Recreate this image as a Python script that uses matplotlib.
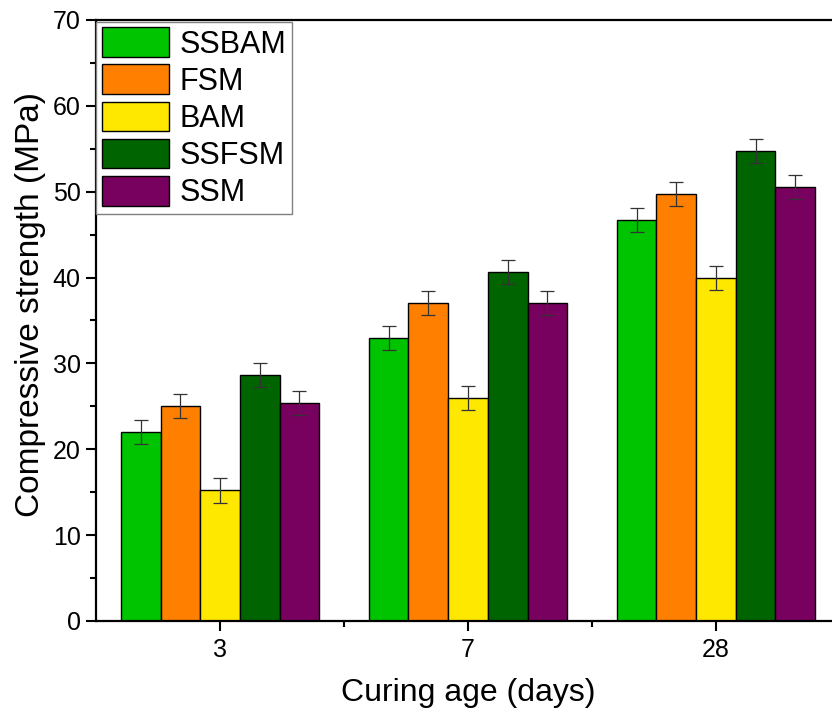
import matplotlib
matplotlib.use("Agg")
import matplotlib.pyplot as plt  # type: ignore
import numpy as np  # type: ignore
from matplotlib.ticker import MultipleLocator  # type: ignore

plt.rcParams['font.family'] = ['Liberation Sans', 'DejaVu Sans']

ages = ['3', '7', '28']
mixes = ['SSBAM', 'FSM', 'BAM', 'SSFSM', 'SSM']
colors = ['#00C400', '#FF8000', '#FFE800', '#006400', '#78005E']

strength = {
    'SSBAM': [22.0, 33.0, 46.7],
    'FSM': [25.0, 37.0, 49.7],
    'BAM': [15.2, 26.0, 40.0],
    'SSFSM': [28.7, 40.7, 54.7],
    'SSM': [25.4, 37.0, 50.6],
}
errors = {
    'SSBAM': [1.4, 1.4, 1.4],
    'FSM': [1.4, 1.4, 1.4],
    'BAM': [1.4, 1.4, 1.4],
    'SSFSM': [1.4, 1.4, 1.4],
    'SSM': [1.4, 1.4, 1.4],
}

fig = plt.figure(figsize=(8.32, 7.16), dpi=100)
ax = fig.add_axes([0.1155, 0.1327, 0.894, 0.8394])

x = np.arange(1, len(ages) + 1)
width = 0.16
for i, (name, c) in enumerate(zip(mixes, colors)):
    pos = x + (i - 2) * width
    ax.bar(pos, strength[name], width, color=c, edgecolor='black',
           linewidth=1.0, label=name, zorder=2)
    ax.errorbar(pos, strength[name], yerr=errors[name], fmt='none',
                ecolor='#333333', elinewidth=0.9, capsize=5, capthick=0.9,
                zorder=3)

ax.set_xlim(0.5, 3.5)
ax.set_ylim(0, 70)
ax.set_xticks(x)
ax.set_xticklabels(ages)
ax.set_xticks([1.5, 2.5], minor=True)
ax.yaxis.set_major_locator(MultipleLocator(10))
ax.yaxis.set_minor_locator(MultipleLocator(5))
ax.tick_params(axis='both', which='major', direction='out', length=7,
               width=1.5, labelsize=18)
ax.tick_params(axis='y', which='major', pad=4)
ax.tick_params(axis='x', which='major', pad=5)
ax.tick_params(axis='both', which='minor', direction='out', length=4,
               width=1.5)
for s in ax.spines.values():
    s.set_linewidth(1.6)

ax.set_xlabel('Curing age (days)', fontsize=23, labelpad=12)
ax.set_ylabel('Compressive strength (MPa)', fontsize=24)
ax.yaxis.set_label_coords(-0.068, 0.527)

leg = ax.legend(loc='upper left', bbox_to_anchor=(0.0, 0.997), fontsize=22,
                handlelength=2.2, handleheight=1.12, labelspacing=0.16,
                handletextpad=0.35, borderpad=0.18, borderaxespad=0.0,
                fancybox=False, framealpha=1)
leg.get_frame().set_edgecolor('#808080')
leg.get_frame().set_linewidth(1.0)

fig.savefig('out.png', dpi=100)
plt.close()
